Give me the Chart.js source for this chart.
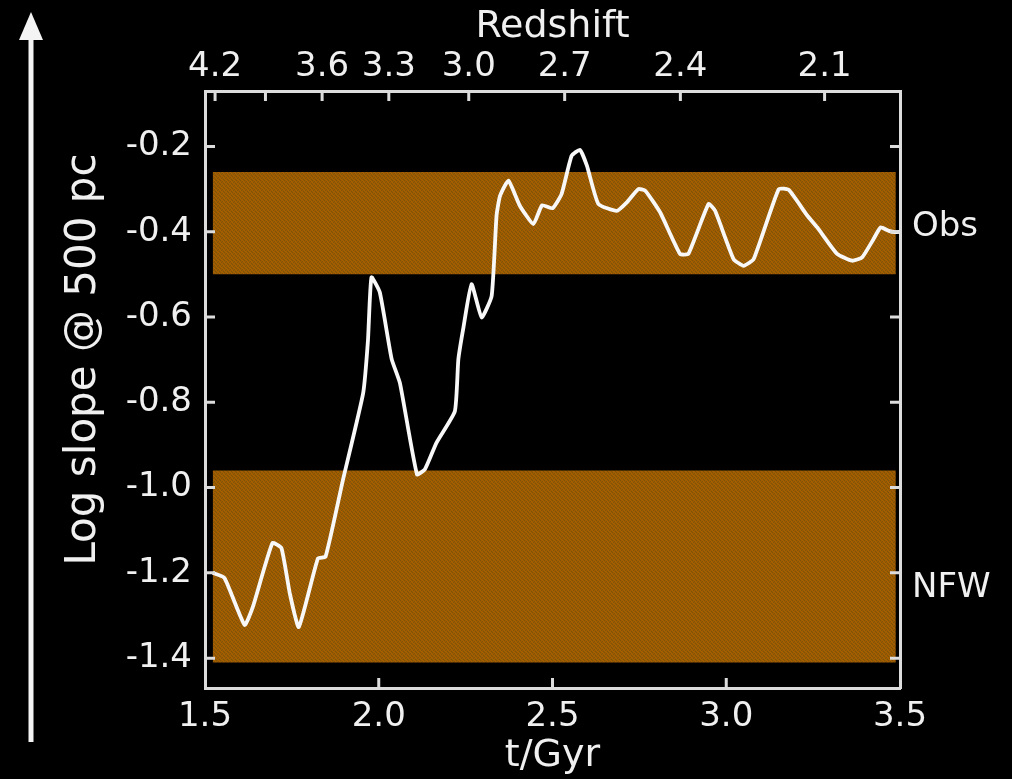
<!DOCTYPE html>
<html>
<head>
<meta charset="utf-8">
<title>Log slope @ 500 pc</title>
<script src="https://cdn.jsdelivr.net/npm/chart.js@4.4.1/dist/chart.umd.min.js"></script>
<style>
  html, body { margin: 0; padding: 0; background: #000; }
  canvas { display: block; }
</style>
</head>
<body>
<canvas id="slopeChart" width="1012" height="779"></canvas>
<script>
// Cosmic time (Gyr) and inner log slope of the density profile at 500 pc
const timeGyr = [
  1.522, 1.556, 1.614, 1.638, 1.694, 1.720, 1.744, 1.770, 1.825, 1.847,
  1.897, 1.955, 1.969, 1.979, 2.003, 2.037, 2.061, 2.110, 2.133, 2.166,
  2.219, 2.229, 2.243, 2.267, 2.296, 2.325, 2.339, 2.349, 2.373, 2.406,
  2.445, 2.470, 2.500, 2.526, 2.555, 2.579, 2.599, 2.632, 2.685, 2.714,
  2.747, 2.767, 2.810, 2.867, 2.891, 2.949, 2.968, 3.021, 3.050, 3.079,
  3.151, 3.180, 3.233, 3.262, 3.319, 3.362, 3.391, 3.424, 3.444, 3.468,
  3.487, 3.500
];
const logSlope = [
  -1.200, -1.212, -1.322, -1.279, -1.130, -1.142, -1.248, -1.327, -1.166, -1.162,
  -0.982, -0.779, -0.654, -0.507, -0.542, -0.698, -0.755, -0.969, -0.957, -0.895,
  -0.821, -0.700, -0.628, -0.523, -0.601, -0.550, -0.362, -0.316, -0.280, -0.339,
  -0.382, -0.338, -0.345, -0.312, -0.222, -0.208, -0.245, -0.335, -0.351, -0.331,
  -0.300, -0.304, -0.355, -0.452, -0.452, -0.335, -0.351, -0.464, -0.480, -0.464,
  -0.300, -0.302, -0.362, -0.390, -0.452, -0.468, -0.460, -0.417, -0.390, -0.398,
  -0.401, -0.400
];

// Axis ticks
const timeTicks = [1.5, 2.0, 2.5, 3.0, 3.5];
const slopeTicks = [-1.4, -1.2, -1.0, -0.8, -0.6, -0.4, -0.2];
const redshiftTickTimes = [1.529, 1.674, 1.837, 2.029, 2.259, 2.535, 2.868, 3.283];
const redshiftTickLabels = ['4.2', '', '3.6', '3.3', '3.0', '2.7', '2.4', '2.1'];

// Shaded ranges: observed cores and NFW cusps
const bandNames = ['Obs', 'NFW'];
const bandUpper = [-0.26, -0.96];
const bandLower = [-0.50, -1.41];
const bandLabelSlope = [-0.39, -1.235];
const bandTimeRange = [1.522, 3.488];

const yTitle = 'Log slope @ 500 pc';

const TEXT = '#f0f0f0';
const FRAME = '#dcdcdc';

// Dithered orange-brown fill for the shaded ranges
function makeBandPattern(ctx) {
  const tile = document.createElement('canvas');
  tile.width = 4; tile.height = 4;
  const t = tile.getContext('2d');
  t.fillStyle = 'rgb(156,90,0)';
  t.fillRect(0, 0, 4, 4);
  t.fillStyle = 'rgb(126,84,8)';
  [[0,0],[2,1],[1,2],[3,3]].forEach(([x, y]) => t.fillRect(x, y, 1, 1));
  t.fillStyle = 'rgb(168,96,0)';
  [[2,0],[0,2],[3,1],[1,3]].forEach(([x, y]) => t.fillRect(x, y, 1, 1));
  return ctx.createPattern(tile, 'repeat');
}

const canvas = document.getElementById('slopeChart');
const ctx = canvas.getContext('2d');
const bandPattern = makeBandPattern(ctx);

const curve = timeGyr.map((t, i) => ({ x: t, y: logSlope[i] }));
const bandSets = bandNames.map((name, i) => ({
  label: name,
  data: [{ x: bandTimeRange[0], y: bandUpper[i] }, { x: bandTimeRange[1], y: bandUpper[i] }],
  borderWidth: 0,
  pointRadius: 0,
  backgroundColor: bandPattern,
  fill: { value: bandLower[i] }
}));

const FAMILY = "'DejaVu Sans', Verdana, sans-serif";
const tickFont = { family: FAMILY, size: 34 };
const titleFont = { family: FAMILY, size: 38 };

// Black backdrop, inward tick marks on all four sides, the y-axis title and the upward arrow
const decor = {
  id: 'decor',
  beforeDraw(chart) {
    const c = chart.ctx;
    c.save();
    c.fillStyle = '#000';
    c.fillRect(0, 0, chart.width, chart.height);
    c.restore();
  },
  afterDraw(chart) {
    const c = chart.ctx;
    const a = chart.chartArea;
    const len = 10;
    c.save();
    c.strokeStyle = FRAME;
    c.lineWidth = 3;
    c.beginPath();
    const xs = chart.scales.x;
    xs.ticks.forEach(tk => {
      if (tk.value <= xs.min || tk.value >= xs.max) return;
      const px = xs.getPixelForValue(tk.value);
      c.moveTo(px, a.bottom); c.lineTo(px, a.bottom - len);
    });
    const xt = chart.scales.xTop;
    xt.ticks.forEach(tk => {
      const px = xt.getPixelForValue(tk.value);
      c.moveTo(px, a.top); c.lineTo(px, a.top + len);
    });
    const ys = chart.scales.y;
    ys.ticks.forEach(tk => {
      const py = ys.getPixelForValue(tk.value);
      c.moveTo(a.left, py); c.lineTo(a.left + len, py);
      c.moveTo(a.right, py); c.lineTo(a.right - len, py);
    });
    c.stroke();

    // y-axis title, rotated, sitting a little above the middle of the plot
    c.save();
    c.translate(84, (a.top + a.bottom) / 2 - 30);
    c.rotate(-Math.PI / 2);
    c.fillStyle = TEXT;
    c.font = `42px ${FAMILY}`;
    c.textAlign = 'center';
    c.textBaseline = 'middle';
    c.fillText(yTitle, 0, 0);
    c.restore();

    // arrow along the left edge
    c.strokeStyle = '#f4f4f4';
    c.fillStyle = '#f4f4f4';
    c.lineWidth = 5;
    c.beginPath();
    c.moveTo(31, 742); c.lineTo(31, 34);
    c.stroke();
    c.beginPath();
    c.moveTo(31, 12); c.lineTo(19, 40); c.lineTo(43, 40);
    c.closePath();
    c.fill();
    c.restore();
  }
};

new Chart(ctx, {
  type: 'line',
  data: {
    datasets: [
      {
        label: 'Log slope',
        data: curve,
        borderColor: '#f8f8f8',
        borderWidth: 3.8,
        pointRadius: 0,
        tension: 0.15,
        fill: false
      },
      ...bandSets
    ]
  },
  options: {
    responsive: false,
    animation: false,
    events: [],
    layout: { padding: 0 },
    plugins: { legend: { display: false }, tooltip: { enabled: false } },
    scales: {
      x: {
        type: 'linear', position: 'bottom', min: 1.5, max: 3.5,
        afterBuildTicks: s => { s.ticks = timeTicks.map(v => ({ value: v })); },
        afterFit: s => { s.height = 91; },
        ticks: {
          color: TEXT, font: tickFont, padding: 9, autoSkip: false,
          maxRotation: 0, minRotation: 0,
          callback: v => Number(v).toFixed(1)
        },
        grid: { display: false, drawTicks: false },
        border: { display: true, color: FRAME, width: 3 },
        title: { display: true, text: 't/Gyr', color: TEXT, font: titleFont, padding: { top: 0, bottom: 0 } }
      },
      xTop: {
        type: 'linear', position: 'top', min: 1.5, max: 3.5,
        afterBuildTicks: s => { s.ticks = redshiftTickTimes.map(v => ({ value: v })); },
        afterFit: s => { s.height = 91; },
        ticks: {
          color: TEXT, font: tickFont, padding: 3, autoSkip: false,
          maxRotation: 0, minRotation: 0,
          callback: (v, i) => redshiftTickLabels[i]
        },
        grid: { display: false, drawTicks: false },
        border: { display: true, color: FRAME, width: 3 },
        title: { display: true, text: 'Redshift', color: TEXT, font: titleFont, padding: { top: 4, bottom: 0 } }
      },
      y: {
        type: 'linear', position: 'left', min: -1.47, max: -0.07,
        afterBuildTicks: s => { s.ticks = slopeTicks.map(v => ({ value: v })); },
        afterFit: s => { s.width = 205; },
        ticks: {
          color: TEXT, font: tickFont, padding: 13, autoSkip: false,
          callback: v => Number(v).toFixed(1)
        },
        grid: { display: false, drawTicks: false },
        border: { display: true, color: FRAME, width: 3 },
        title: { display: false }
      },
      yRight: {
        type: 'linear', position: 'right', min: -1.47, max: -0.07,
        afterBuildTicks: s => { s.ticks = bandLabelSlope.map(v => ({ value: v })); },
        afterFit: s => { s.width = 112; },
        ticks: {
          color: TEXT, font: tickFont, padding: 12, autoSkip: false,
          callback: (v, i) => bandNames[i]
        },
        grid: { display: false, drawTicks: false },
        border: { display: true, color: FRAME, width: 3 }
      }
    }
  },
  plugins: [decor]
});
</script>
</body>
</html>
